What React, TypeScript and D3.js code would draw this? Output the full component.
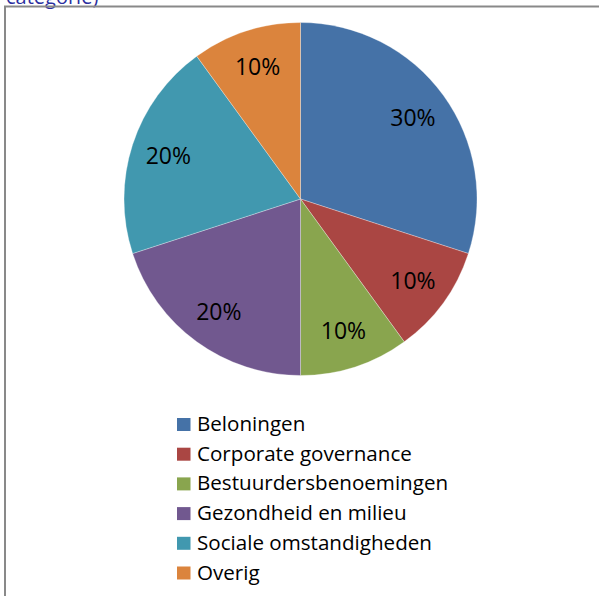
import React, { useEffect, useRef } from 'react';
import * as d3 from 'd3';

const categories = [
  'Beloningen',
  'Corporate governance',
  'Bestuurdersbenoemingen',
  'Gezondheid en milieu',
  'Sociale omstandigheden',
  'Overig',
];
const shares = [30, 10, 10, 20, 20, 10];
const colors = ['#4572A7', '#AA4643', '#89A54E', '#71588F', '#4198AF', '#DB843D'];
const titleText = 'categorie)';

const App: React.FC = () => {
  const svgRef = useRef<SVGSVGElement>(null);

  useEffect(() => {
    if (!svgRef.current) return;
    const svg = d3.select(svgRef.current);
    svg.selectAll('*').remove();

    const width = 599;
    const height = 596;
    const cx = 300.5;
    const cy = 199;
    const radius = 176.5;
    const font = "'Open Sans', 'Noto Sans', sans-serif";

    svg.attr('width', width).attr('height', height);

    // cut-off title from above
    svg
      .append('text')
      .attr('x', 6)
      .attr('y', 4)
      .style('font-family', font)
      .style('font-size', '20px')
      .style('fill', '#2B2FA0')
      .text(titleText);

    // chart border
    svg
      .append('rect')
      .attr('x', 5)
      .attr('y', 6.5)
      .attr('width', 620)
      .attr('height', 620)
      .attr('fill', 'none')
      .attr('stroke', '#898989')
      .attr('stroke-width', 2);

    const data = categories.map((c, i) => ({ name: c, value: shares[i], color: colors[i] }));
    const total = d3.sum(shares);

    const pie = d3
      .pie<{ name: string; value: number; color: string }>()
      .sort(null)
      .value(d => d.value);
    const arcs = pie(data);

    const arc = d3
      .arc<d3.PieArcDatum<{ name: string; value: number; color: string }>>()
      .innerRadius(0)
      .outerRadius(radius);
    const labelArc = d3
      .arc<d3.PieArcDatum<{ name: string; value: number; color: string }>>()
      .innerRadius(139)
      .outerRadius(139);

    const g = svg.append('g').attr('transform', `translate(${cx},${cy})`);

    g.selectAll('path')
      .data(arcs)
      .enter()
      .append('path')
      .attr('d', arc)
      .attr('fill', d => d.data.color)
      .attr('stroke', '#ffffff')
      .attr('stroke-opacity', 0.5)
      .attr('stroke-width', 0.6);

    g.selectAll('text.pct')
      .data(arcs)
      .enter()
      .append('text')
      .attr('class', 'pct')
      .attr('transform', d => `translate(${labelArc.centroid(d)})`)
      .attr('text-anchor', 'middle')
      .attr('dy', '0.36em')
      .style('font-family', font)
      .style('font-size', '23px')
      .style('fill', '#000')
      .text(d => `${Math.round((d.data.value / total) * 100)}%`);

    // legend
    const legend = svg.append('g').attr('transform', 'translate(177, 418)');
    const row = 29.7;

    legend
      .selectAll('rect')
      .data(data)
      .enter()
      .append('rect')
      .attr('x', 0)
      .attr('y', (d, i) => i * row)
      .attr('width', 13.5)
      .attr('height', 13)
      .attr('fill', d => d.color);

    legend
      .selectAll('text')
      .data(data)
      .enter()
      .append('text')
      .attr('x', 20)
      .attr('y', (d, i) => i * row + 13)
      .style('font-family', font)
      .style('font-size', '20.6px')
      .style('fill', '#000')
      .text(d => d.name);
  }, []);

  return <svg ref={svgRef} style={{ position: 'absolute', left: 0, top: 0 }}></svg>;
};

export default App;
